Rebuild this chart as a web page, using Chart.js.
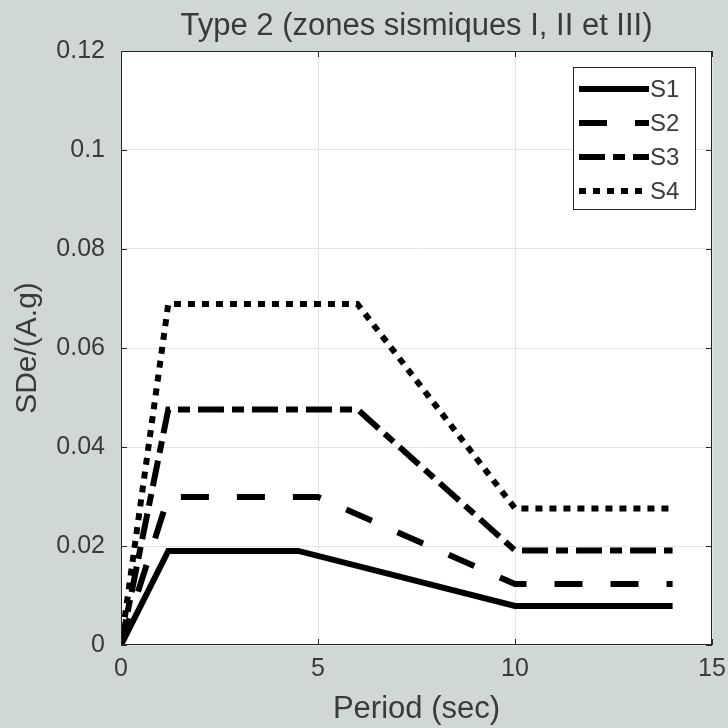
<!DOCTYPE html>
<html>
<head>
<meta charset="utf-8">
<script src="https://cdn.jsdelivr.net/npm/chart.js@4/dist/chart.umd.min.js"></script>
<style>
    html, body { margin: 0; padding: 0; background: #cfd8d4; }
    #wrap { width: 728px; height: 728px; }
</style>
</head>
<body>
<div id="wrap"><canvas id="spectre" width="728" height="728"></canvas></div>
<script>
// periods (sec) and SDe/(A.g) values
const s1Period = [0, 1.2, 4.5, 10, 14];
const s1Value = [0, 0.019, 0.019, 0.0079, 0.0079];
const s2Period = [0, 1.2, 5.0, 10, 14];
const s2Value = [0, 0.0299, 0.0299, 0.0123, 0.0123];
const s3Period = [0, 1.2, 6, 10, 14];
const s3Value = [0, 0.0476, 0.0476, 0.0191, 0.0191];
const s4Period = [0, 1.2, 6, 10, 14];
const s4Value = [0, 0.0689, 0.0689, 0.0276, 0.0276];

const seriesNames = ['S1', 'S2', 'S3', 'S4'];
const xTicks = [0, 5, 10, 15];
const yTicks = [0, 0.02, 0.04, 0.06, 0.08, 0.1, 0.12];
const chartTitle = 'Type 2 (zones sismiques I, II et III)';

const textColor = '#3a3a3a';
const fontFamily = '"Liberation Sans", Arial, sans-serif';

const toPoints = (xs, ys) => xs.map((x, i) => ({ x: x, y: ys[i] }));

function lineSet(label, pts, dash) {
    return {
        label: label,
        data: pts,
        showLine: true,
        borderColor: '#000',
        borderWidth: 6,
        borderDash: dash,
        borderCapStyle: 'butt',
        borderJoinStyle: 'miter',
        pointRadius: 0,
        fill: false
    };
}

// background, title, box, inward ticks and legend (matlab look)
const framePlugin = {
    id: 'frame',
    beforeDraw(chart) {
        const { ctx, chartArea: a } = chart;
        ctx.save();
        ctx.fillStyle = '#cfd8d4';
        ctx.fillRect(0, 0, chart.width, chart.height);
        ctx.fillStyle = '#fff';
        ctx.fillRect(a.left, a.top, a.right - a.left, a.bottom - a.top);

        ctx.fillStyle = textColor;
        ctx.font = '31px ' + fontFamily;
        ctx.textAlign = 'center';
        ctx.textBaseline = 'alphabetic';
        ctx.fillText(chartTitle, (a.left + a.right) / 2, 35);
        ctx.restore();
    },
    afterDatasetsDraw(chart) {
        const { ctx, chartArea: a, scales } = chart;
        ctx.save();
        ctx.strokeStyle = '#262626';
        ctx.lineWidth = 1;
        ctx.strokeRect(a.left + 0.5, a.top + 0.5, a.right - a.left - 1, a.bottom - a.top - 1);

        const tl = 6;
        ctx.beginPath();
        xTicks.forEach(v => {
            const px = Math.round(scales.x.getPixelForValue(v)) + 0.5;
            ctx.moveTo(px, a.bottom); ctx.lineTo(px, a.bottom - tl);
            ctx.moveTo(px, a.top); ctx.lineTo(px, a.top + tl);
        });
        yTicks.forEach(v => {
            const py = Math.round(scales.y.getPixelForValue(v)) + 0.5;
            ctx.moveTo(a.left, py); ctx.lineTo(a.left + tl, py);
            ctx.moveTo(a.right, py); ctx.lineTo(a.right - tl, py);
        });
        ctx.stroke();

        // legend box
        const bx = a.right - 139, by = a.top + 16, bw = 122, bh = 142;
        ctx.fillStyle = '#fff';
        ctx.fillRect(bx, by, bw, bh);
        ctx.strokeStyle = '#262626';
        ctx.strokeRect(bx + 0.5, by + 0.5, bw, bh);

        ctx.font = '24px ' + fontFamily;
        ctx.textBaseline = 'middle';
        ctx.fillStyle = textColor;
        chart.data.datasets.forEach((ds, i) => {
            const y = by + 22 + i * 34;
            ctx.save();
            ctx.strokeStyle = ds.borderColor;
            ctx.lineWidth = ds.borderWidth;
            ctx.lineCap = 'butt';
            ctx.setLineDash(ds.borderDash || []);
            ctx.beginPath();
            ctx.moveTo(bx + 6, y);
            ctx.lineTo(bx + 76, y);
            ctx.stroke();
            ctx.restore();
            ctx.fillText(ds.label, bx + 77, y + 1);
        });
        ctx.restore();
    }
};

const chart = new Chart(document.getElementById('spectre'), {
    type: 'scatter',
    data: {
        datasets: [
            lineSet(seriesNames[0], toPoints(s1Period, s1Value), []),
            lineSet(seriesNames[1], toPoints(s2Period, s2Value), [28, 28]),
            lineSet(seriesNames[2], toPoints(s3Period, s3Value), [26, 8, 12, 8]),
            lineSet(seriesNames[3], toPoints(s4Period, s4Value), [7, 7])
        ]
    },
    options: {
        responsive: false,
        animation: false,
        events: [],
        layout: { autoPadding: false, padding: { left: 0, right: 0, top: 51, bottom: 0 } },
        plugins: {
            legend: { display: false },
            tooltip: { enabled: false },
            title: { display: false }
        },
        scales: {
            x: {
                type: 'linear',
                min: 0,
                max: 15,
                afterBuildTicks: s => { s.ticks = xTicks.map(v => ({ value: v })); },
                afterFit: s => {
                    s.height = 83;
                    s.paddingLeft = 0;
                    s.paddingRight = 16;
                },
                grid: { color: '#e4e4e4', drawTicks: false },
                border: { display: false },
                ticks: {
                    color: textColor,
                    padding: 9,
                    font: { family: fontFamily, size: 25 },
                    maxRotation: 0
                },
                title: {
                    display: true,
                    text: 'Period (sec)',
                    color: textColor,
                    font: { family: fontFamily, size: 31 },
                    padding: { top: 0, bottom: 0 }
                }
            },
            y: {
                min: 0,
                max: 0.12,
                afterBuildTicks: s => { s.ticks = yTicks.map(v => ({ value: v })); },
                afterFit: s => {
                    s.width = 121;
                    s.paddingTop = 0;
                    s.paddingBottom = 0;
                },
                grid: { color: '#e4e4e4', drawTicks: false },
                border: { display: false },
                ticks: {
                    color: textColor,
                    padding: 16,
                    font: { family: fontFamily, size: 25 },
                    callback: v => String(+v.toFixed(2))
                },
                title: {
                    display: true,
                    text: 'SDe/(A.g)',
                    color: textColor,
                    font: { family: fontFamily, size: 30 },
                    padding: { top: 10, bottom: 0 }
                }
            }
        }
    },
    plugins: [framePlugin]
});
</script>
</body>
</html>
